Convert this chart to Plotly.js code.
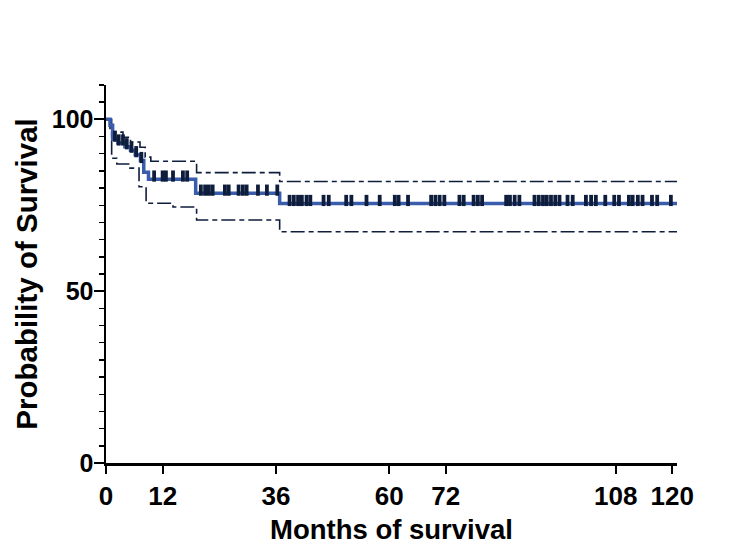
<!DOCTYPE html>
<html>
<head>
<meta charset="utf-8">
<script src="https://cdn.plot.ly/plotly-3.0.1.min.js"></script>
<style>html,body{margin:0;padding:0;background:#fff}#chart{width:750px;height:554px}</style>
</head>
<body>
<div id="chart"></div>
<script>
// Kaplan-Meier estimate (months, % surviving)
var kmTime = [0, 0.85, 1.4, 2.5, 4.0, 5.2, 6.2, 7.3, 8.0, 9.0, 19.0, 36.8, 121];
var kmSurv = [100, 98.3, 94.2, 93.1, 92.0, 91.0, 89.7, 88.0, 84.6, 82.6, 78.5, 75.5, 75.5];

// 95% confidence band
var upTime = [0, 0.85, 3.6, 5.2, 7.2, 8.3, 9.5, 19.2, 36.8, 121];
var upVal  = [100, 96.3, 94.8, 93.4, 91.9, 89.0, 87.8, 84.5, 81.9, 81.9];
var loTime = [0, 1.2, 2.3, 4.8, 7.0, 8.5, 14.2, 19.2, 36.8, 121];
var loVal  = [100, 88.7, 87.0, 85.8, 80.4, 75.6, 74.5, 70.7, 67.3, 67.3];

// censored observations (months)
var censorTime = [1.9, 2.7, 3.6, 4.4, 5.4, 6.4, 7.5, 10.2, 12.0, 12.7, 14.2, 16.3, 17.2,
  20.1, 21.0, 21.8, 22.6, 25.2, 26.0, 28.1, 29.0, 29.8, 32.2, 34.1, 36.3,
  38.9, 39.8, 40.7, 41.5, 42.5, 43.3, 46.1, 47.2, 50.9, 52.0, 55.2, 58.0, 61.2, 62.0, 64.0,
  68.9, 69.8, 70.7, 71.7, 74.9, 75.8, 77.9, 78.8, 79.7, 84.8, 85.6, 86.6, 87.6,
  90.8, 91.7, 92.6, 93.4, 94.3, 95.2, 96.1, 97.8, 98.9, 101.7, 102.8, 103.8, 105.8,
  107.7, 108.7, 110.8, 111.6, 112.7, 113.7, 115.7, 116.8, 119.7];

var xTicks = [0, 12, 36, 60, 72, 108, 120];
var yTicks = [0, 50, 100];

function stepAt(t, ts, vs) {
  var v = vs[0];
  for (var i = 0; i < ts.length; i++) { if (ts[i] <= t) v = vs[i]; }
  return v;
}
var censorSurv = censorTime.map(function (t) { return stepAt(t, kmTime, kmSurv) + 0.9; });

var navy = '#0f1d3d';
var dashPat = '14px,4px,5px,4px';
var traces = [
  {x: upTime, y: upVal, mode: 'lines', line: {shape: 'hv', color: navy, width: 1.6, dash: dashPat}, hoverinfo: 'skip'},
  {x: loTime, y: loVal, mode: 'lines', line: {shape: 'hv', color: navy, width: 1.6, dash: dashPat}, hoverinfo: 'skip'},
  {x: kmTime, y: kmSurv, mode: 'lines', line: {shape: 'hv', color: '#3a5dab', width: 3.5}},
  {x: censorTime, y: censorSurv, mode: 'markers',
   marker: {symbol: 'line-ns', size: 8, line: {width: 3.8, color: navy}}}
];

var font = 'Liberation Sans, Arial, Helvetica, sans-serif';
var layout = {
  width: 750, height: 554,
  margin: {l: 106, r: 73, t: 85, b: 91},
  paper_bgcolor: '#fff', plot_bgcolor: '#fff',
  showlegend: false,
  font: {family: font, color: '#000'},
  xaxis: {
    range: [0, 121], tickvals: xTicks, ticktext: xTicks.map(String),
    showgrid: false, zeroline: false, showline: true, linecolor: '#000', linewidth: 2.5,
    ticks: 'outside', ticklen: 8, tickwidth: 2, tickcolor: '#000',
    tickfont: {family: font, size: 26, color: '#000', weight: 'bold'},
    title: {text: '<b>Months of survival</b>', font: {family: font, size: 27.5, color: '#000'}, standoff: 10}
  },
  yaxis: {
    range: [0, 110], tickvals: yTicks, ticktext: yTicks.map(String),
    showgrid: false, zeroline: false, showline: true, linecolor: '#000', linewidth: 2.5,
    ticks: 'outside', ticklen: 10, tickwidth: 2, tickcolor: '#000',
    ticklabelstandoff: -5,
    minor: {dtick: 5, ticks: 'outside', ticklen: 5, tickwidth: 1.5, tickcolor: '#000', showgrid: false},
    tickfont: {family: font, size: 25, color: '#000', weight: 'bold'},
    title: {text: '<b>Probability of Survival</b>', font: {family: font, size: 29.5, color: '#000'}, standoff: 6}
  }
};

Plotly.newPlot('chart', traces, layout, {displayModeBar: false, staticPlot: true});
</script>
</body>
</html>
